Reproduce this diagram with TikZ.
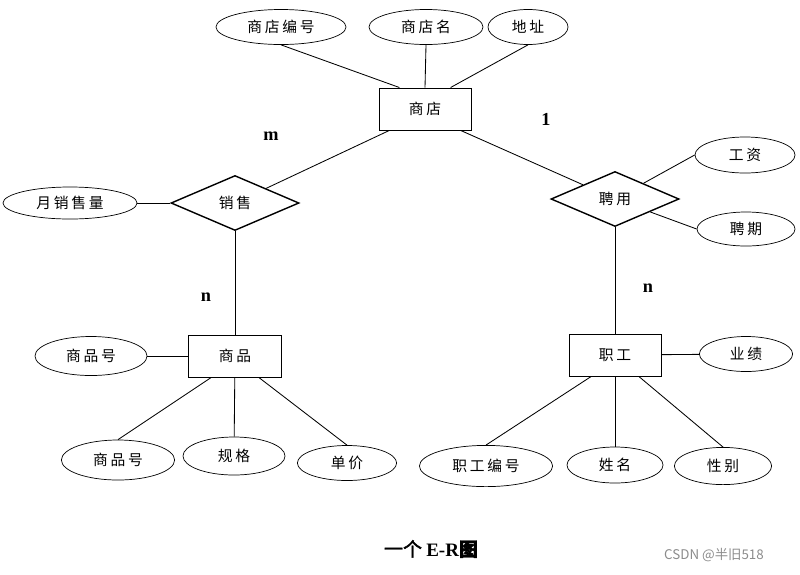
\documentclass[tikz,border=0pt]{standalone}
\usepackage{fontspec}
\setmainfont{Liberation Serif}
\newfontfamily\cjk[LetterSpace=18]{Noto Sans CJK SC}
\newfontfamily\cjkbold[FakeBold=2]{Noto Sans CJK SC}
\newfontfamily\markfont{Noto Sans CJK SC}
\usetikzlibrary{shapes.geometric}

\begin{document}
\begin{tikzpicture}[x=0.025cm,y=-0.025cm,
    attr/.style={draw,ellipse,line width=0.5pt,inner sep=0pt,minimum height=0.9cm,font=\cjk\fontsize{10.5}{12}\selectfont},
    entity/.style={draw,rectangle,line width=0.7pt,minimum width=2.3cm,minimum height=1.05cm,font=\cjk\fontsize{10.5}{12}\selectfont},
    rel/.style={draw,diamond,line width=1pt,inner sep=0pt,minimum width=3.2cm,minimum height=1.375cm,font=\cjk\fontsize{10.5}{12}\selectfont},
    card/.style={font=\fontsize{13}{15}\selectfont\bfseries}]
    \useasboundingbox (0,0) rectangle (800,574);

    % entities and relations
    \node[entity] (shop) at (425,109) {商店};
    \node[entity] (goods) at (235,356) {商品};
    \node[entity] (staff) at (615,355) {职工};
    \node[rel] (sale) at (235,203) {销售};
    \node[rel] (hire) at (615,199) {聘用};

    % attributes
    \node[attr,minimum width=3.25cm,minimum height=0.875cm] (shopno) at (281,27) {商店编号};
    \node[attr,minimum width=2.85cm,minimum height=0.875cm] (shopname) at (426,27) {商店名};
    \node[attr,minimum width=2cm,minimum height=0.875cm] (addr) at (528,27) {地址};
    \node[attr,minimum width=3.35cm,minimum height=0.8cm] (msales) at (70,203) {月销售量};
    \node[attr,minimum width=2.5cm] (salary) at (745,155) {工资};
    \node[attr,minimum width=2.45cm,minimum height=0.85cm] (term) at (746,229) {聘期};
    \node[attr,minimum width=2.8cm,minimum height=0.975cm] (goodsno) at (91,356) {商品号};
    \node[attr,minimum width=2.83cm,minimum height=1cm] (goodsid) at (118,460) {商品号};
    \node[attr,minimum width=2.55cm,minimum height=0.95cm] (spec) at (234,456) {规格};
    \node[attr,minimum width=2.48cm,minimum height=0.875cm] (price) at (347,463) {单价};
    \node[attr,minimum width=2.33cm,minimum height=0.875cm] (perf) at (746,354) {业绩};
    \node[attr,minimum width=3.33cm,minimum height=1.03cm] (staffno) at (486,466) {职工编号};
    \node[attr,minimum width=2.4cm] (sname) at (615,465) {姓名};
    \node[attr,minimum width=2.43cm,minimum height=0.93cm] (sex) at (723,466) {性别};

    % cardinalities
    \node[card] (m) at (271,136) {m};
    \node[card] (one) at (546,119) {1};
    \node[card] (n1) at (206,297) {n};
    \node[card] (n2) at (648,288) {n};

    \path[line width=0.6pt]
    (shopno.south) edge (shop.140)
    (shopname.south) edge (shop.north)
    (addr.south) edge (shop.40)
    (sale) edge (shop.-149)
    (hire) edge (shop.-31)
    (msales) edge (sale)
    (hire) edge (salary.west)
    (hire) edge (term.west)
    (sale) edge (goods)
    (hire) edge (staff)
    (goodsno) edge (goods)
    (goods.-138) edge (goodsid.north)
    (goods) edge (spec)
    (goods.-42) edge (price.north)
    (staff) edge (perf)
    (staff.-138) edge (staffno.north)
    (staff) edge (sname)
    (staff.-42) edge (sex.north)
    ;

    \node (caption) at (431,549) {\fontsize{13.5}{15}\selectfont\cjkbold 一个\ \rmfamily\bfseries E-R\cjkbold 图};
    \node[text=black!45,font=\markfont\fontsize{9.5}{11}\selectfont] (mark) at (714,555) {CSDN @半旧518};
  \end{tikzpicture}
\end{document}
